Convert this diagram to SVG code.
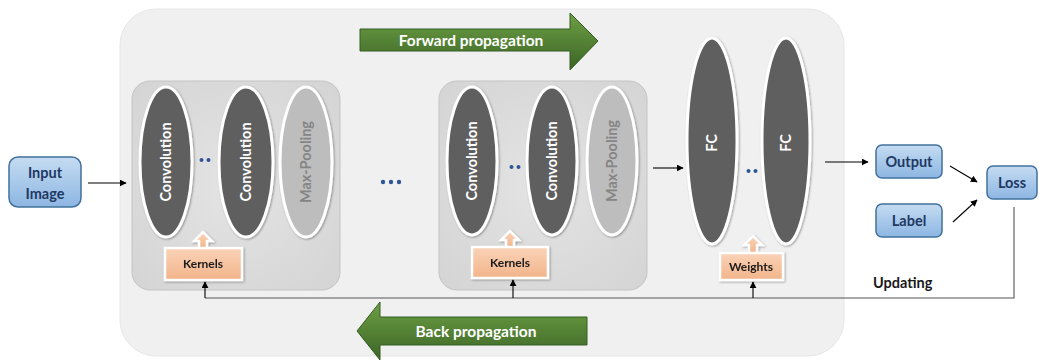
<svg xmlns="http://www.w3.org/2000/svg" width="1039" height="362" viewBox="0 0 1039 362">
<defs>
<linearGradient id="gBlue" x1="0" y1="0" x2="0" y2="1"><stop offset="0" stop-color="#C5DCF2"/><stop offset="1" stop-color="#8DB6E2"/></linearGradient>
<linearGradient id="gGreen" x1="0" y1="0" x2="0" y2="1"><stop offset="0" stop-color="#6E9F45"/><stop offset="0.5" stop-color="#548235"/><stop offset="1" stop-color="#3C6426"/></linearGradient>
<linearGradient id="gPeach" x1="0" y1="0" x2="0" y2="1"><stop offset="0" stop-color="#FAD3B8"/><stop offset="1" stop-color="#F2B48A"/></linearGradient>
<radialGradient id="gBlock" cx="0.5" cy="0.5" r="0.7"><stop offset="0" stop-color="#E4E4E4"/><stop offset="1" stop-color="#D4D4D4"/></radialGradient>
<marker id="ah" viewBox="0 0 10 10" refX="9" refY="5" markerWidth="7" markerHeight="7" orient="auto-start-reverse" markerUnits="userSpaceOnUse"><path d="M0,0 L10,5 L0,10 z" fill="#000"/></marker>
<filter id="sh" x="-20%" y="-20%" width="140%" height="140%"><feDropShadow dx="1" dy="1" stdDeviation="1.2" flood-color="#000" flood-opacity="0.35"/></filter>
</defs>
<style>
.box{fill:url(#gBlue);stroke:#41719C;stroke-width:1.5}
.btxt{font-family:Lato,"Open Sans",sans-serif;font-weight:bold;font-size:14.5px;fill:#1F3864;text-anchor:middle}
.blk{fill:url(#gBlock);stroke:#C4C4C4;stroke-width:1}
.dark{fill:#5E5E5E;stroke:#FFFFFF;stroke-width:3}
.light{fill:#BDBDBD;stroke:#FFFFFF;stroke-width:3}
.etxt{font-family:Lato,"Open Sans",sans-serif;font-weight:bold;font-size:14.5px;fill:#FFFFFF;text-anchor:middle}
.ltxt{font-family:Lato,"Open Sans",sans-serif;font-weight:bold;font-size:14.5px;fill:#858585;text-anchor:middle}
.pch{fill:url(#gPeach);stroke:#FFFFFF;stroke-width:2.5}
.ptxt{font-family:Lato,"Open Sans",sans-serif;font-weight:bold;font-size:12px;fill:#1a1a1a;text-anchor:middle}
.garrow{fill:url(#gGreen);stroke:#355E22;stroke-width:1}
.gtxt{font-family:Lato,"Open Sans",sans-serif;font-weight:bold;font-size:15.5px;fill:#FFFFFF;text-anchor:middle}
.dots{fill:#2F5597}
.ln{stroke:#000;stroke-width:1.1;fill:none}
.fb{stroke:#555;stroke-width:1.1;fill:none}
</style>
<rect width="1039" height="362" fill="#FFFFFF"/>
<g id="main-area"><rect x="120" y="9" width="724" height="347" rx="36" fill="#F0F0F0" stroke="#E6E6E6"/></g>

<g id="forward-propagation">
<path class="garrow" d="M360,29 H570 V13 L598,41 L570,70 V51 H360 Z"/>
<text class="gtxt" x="471" y="46">Forward propagation</text>
</g>
<g id="back-propagation">
<path class="garrow" d="M587,317 H380 V302 L357,331 L380,360 V345 H587 Z"/>
<text class="gtxt" x="476" y="337">Back propagation</text>
</g>

<g id="input-image">
<rect class="box" x="9" y="157" width="72" height="50" rx="9"/>
<text class="btxt" x="45" y="178">Input</text>
<text class="btxt" x="45" y="199">Image</text>
</g>

<g id="conv-block-1">
<rect class="blk" x="132" y="81" width="208" height="209" rx="18"/>
<g filter="url(#sh)">
<ellipse class="dark" cx="166" cy="162" rx="26" ry="75"/>
<ellipse class="dark" cx="246" cy="162" rx="27" ry="75"/>
<ellipse class="light" cx="306" cy="162" rx="26" ry="75"/>
</g>
<text class="etxt" transform="translate(171,162) rotate(-90)">Convolution</text>
<text class="etxt" transform="translate(251,162) rotate(-90)">Convolution</text>
<text class="ltxt" transform="translate(311,162) rotate(-90)">Max-Pooling</text>
<circle class="dots" cx="201.5" cy="160" r="2"/><circle class="dots" cx="208.5" cy="160" r="2"/>
</g>
<g id="kernels-1" filter="url(#sh)">
<path class="pch" d="M199,249 V241 H194 L203,232 L212,241 H207 V249 Z"/>
<rect class="pch" x="165" y="248" width="77" height="32"/>
<text class="ptxt" x="203" y="268">Kernels</text>
</g>

<g id="ellipsis-dots">
<circle class="dots" cx="383" cy="182" r="2.2"/><circle class="dots" cx="391" cy="182" r="2.2"/><circle class="dots" cx="399" cy="182" r="2.2"/>
</g>

<g id="conv-block-2">
<rect class="blk" x="439" y="81" width="208" height="209" rx="18"/>
<g filter="url(#sh)">
<ellipse class="dark" cx="472" cy="161" rx="25" ry="74"/>
<ellipse class="dark" cx="552" cy="161" rx="25" ry="74"/>
<ellipse class="light" cx="612" cy="161" rx="25" ry="74"/>
</g>
<text class="etxt" transform="translate(477,161) rotate(-90)">Convolution</text>
<text class="etxt" transform="translate(557,161) rotate(-90)">Convolution</text>
<text class="ltxt" transform="translate(617,161) rotate(-90)">Max-Pooling</text>
<circle class="dots" cx="511.5" cy="167" r="2"/><circle class="dots" cx="518.5" cy="167" r="2"/>
</g>
<g id="kernels-2" filter="url(#sh)">
<path class="pch" d="M506,248 V240 H501 L510,231 L519,240 H514 V248 Z"/>
<rect class="pch" x="472" y="247" width="76" height="31"/>
<text class="ptxt" x="510" y="267">Kernels</text>
</g>

<g id="fc-layers">
<g filter="url(#sh)">
<ellipse class="dark" cx="712" cy="141" rx="25" ry="103"/>
<ellipse class="dark" cx="786" cy="141" rx="24" ry="103"/>
</g>
<text class="etxt" transform="translate(717,143) rotate(-90)">FC</text>
<text class="etxt" transform="translate(791,143) rotate(-90)">FC</text>
<circle class="dots" cx="748.5" cy="171" r="2"/><circle class="dots" cx="755.5" cy="171" r="2"/>
</g>
<g id="weights" filter="url(#sh)">
<path class="pch" d="M749,254 V245 H744 L753,236 L762,245 H757 V254 Z"/>
<rect class="pch" x="720" y="253" width="63" height="27"/>
<text class="ptxt" x="751" y="271">Weights</text>
</g>

<g id="output"><rect class="box" x="876" y="145" width="66" height="33" rx="6"/><text class="btxt" x="909" y="167">Output</text></g>
<g id="label"><rect class="box" x="876" y="204" width="66" height="33" rx="6"/><text class="btxt" x="909" y="226">Label</text></g>
<g id="loss"><rect class="box" x="987" y="166" width="50" height="33" rx="6"/><text class="btxt" x="1012" y="188">Loss</text></g>

<text id="updating" x="873" y="288" style="font-family:Lato,'Open Sans',sans-serif;font-weight:bold;font-size:14.5px;fill:#1a1a1a">Updating</text>

<g id="connectors">
<line class="ln" x1="88" y1="183" x2="126" y2="183" marker-end="url(#ah)"/>
<line class="ln" x1="653" y1="168" x2="683" y2="168" marker-end="url(#ah)"/>
<line class="ln" x1="825" y1="162" x2="868" y2="162" marker-end="url(#ah)"/>
<line class="ln" x1="950" y1="166" x2="977" y2="182" marker-end="url(#ah)"/>
<line class="ln" x1="953" y1="222" x2="977" y2="200" marker-end="url(#ah)"/>
<polyline class="fb" points="1014,207 1014,298 205,298"/>
<line class="ln" x1="205" y1="298" x2="205" y2="282" marker-end="url(#ah)"/>
<line class="ln" x1="513" y1="298" x2="513" y2="280" marker-end="url(#ah)"/>
<line class="ln" x1="753" y1="298" x2="753" y2="282" marker-end="url(#ah)"/>
</g>
</svg>
